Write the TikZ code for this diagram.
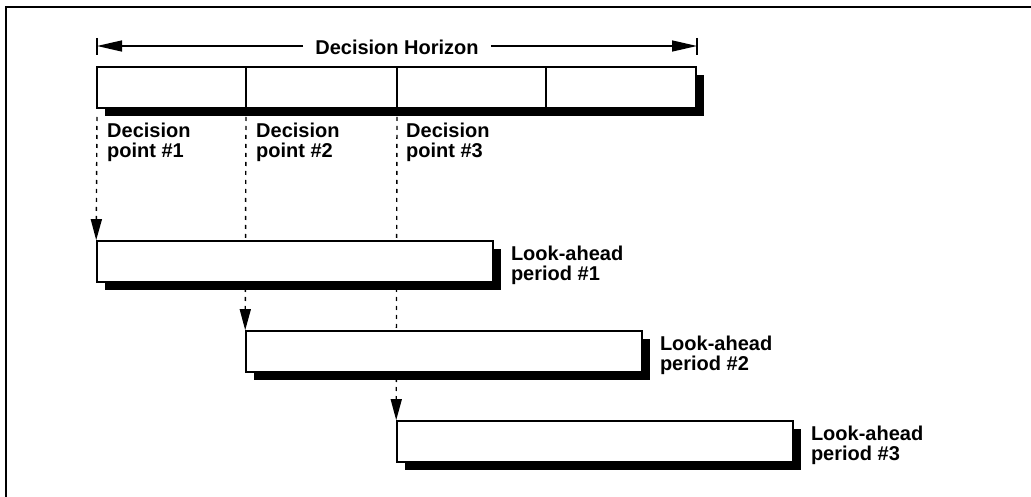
\documentclass[tikz,border=0pt]{standalone}
\usepackage{fontspec}
\setmainfont{Liberation Sans}
\usetikzlibrary{arrows.meta,shadows,backgrounds,calc}
\begin{document}
\begin{tikzpicture}[x=1pt,y=-1pt,
  lbl/.style={font=\fontsize{20}{19.5}\selectfont\bfseries, align=left, inner sep=0pt},
  box/.style={draw=black, line width=1.6pt, fill=white, minimum width=396pt, minimum height=41pt, inner sep=0pt,
    drop shadow={shadow xshift=8pt, shadow yshift=-8pt, fill=black, opacity=1}},
  strip/.style={draw=black, line width=1.6pt, fill=white, minimum width=599pt, minimum height=41pt, inner sep=0pt,
    drop shadow={shadow xshift=8pt, shadow yshift=-8pt, fill=black, opacity=1}},
  divider/.style={line width=1.4pt},
  bar/.style={line width=1.4pt},
  hline/.style={line width=1.4pt, -{Triangle[length=25pt,width=11pt]}},
  dline/.style={line width=1.4pt, dash pattern=on 4pt off 5pt, -{Triangle[length=21pt,width=11pt]}},
  frame/.style={line width=2.4pt}
]
\useasboundingbox (0,0) rectangle (1031,497);
% frame
\coordinate (f1) at (6,7);
\coordinate (f2) at (1031,7);
\coordinate (f3) at (6,497);
\draw[frame] (f2) -- (f1) -- (f3);

% decision horizon
\node[lbl] (dh) at (397,47) {Decision Horizon};
\coordinate (hl) at (97,46);
\coordinate (hr) at (697,46);
\coordinate (hlt) at (97,38);
\coordinate (hlb) at (97,55);
\coordinate (hrt) at (697,38);
\coordinate (hrb) at (697,55);
\draw[bar] (hlt) -- (hlb);
\draw[bar] (hrt) -- (hrb);
\draw[hline] ($(dh.west)+(-12,-1)$) -- (hl);
\draw[hline] ($(dh.east)+(12,-1)$) -- (hr);

% top strip
\node[strip] (st) at (396.5,87.5) {};
\coordinate (s1t) at (246,67); \coordinate (s1b) at (246,108);
\coordinate (s2t) at (397,67); \coordinate (s2b) at (397,108);
\coordinate (s3t) at (546,67); \coordinate (s3b) at (546,108);
\draw[divider] (s1t) -- (s1b);
\draw[divider] (s2t) -- (s2b);
\draw[divider] (s3t) -- (s3b);

% decision point labels
\node[lbl, anchor=north west] (dp1) at (107,123) {Decision\\point \#1};
\node[lbl, anchor=north west] (dp2) at (256,123) {Decision\\point \#2};
\node[lbl, anchor=north west] (dp3) at (406,123) {Decision\\point \#3};

% look-ahead boxes
\node[box] (b1) at (295,261.5) {};
\node[box] (b2) at (444,351.5) {};
\node[box] (b3) at (595,441.5) {};

\node[lbl, anchor=west] (l1) at ($(b1.east)+(17,4)$) {Look-ahead\\period \#1};
\node[lbl, anchor=west] (l2) at ($(b2.east)+(17,4)$) {Look-ahead\\period \#2};
\node[lbl, anchor=west] (l3) at ($(b3.east)+(17,4)$) {Look-ahead\\period \#3};

% dotted connectors
\coordinate (d1) at (97,117);
\coordinate (d2) at (246,117);
\coordinate (d3) at (397,117);
\begin{pgfonlayer}{background}
\draw[dline] (d1) -- (b1.north west);
\draw[dline] (d2) -- (b2.north west);
\draw[dline] (d3) -- (b3.north west);
\end{pgfonlayer}
\end{tikzpicture}
\end{document}
